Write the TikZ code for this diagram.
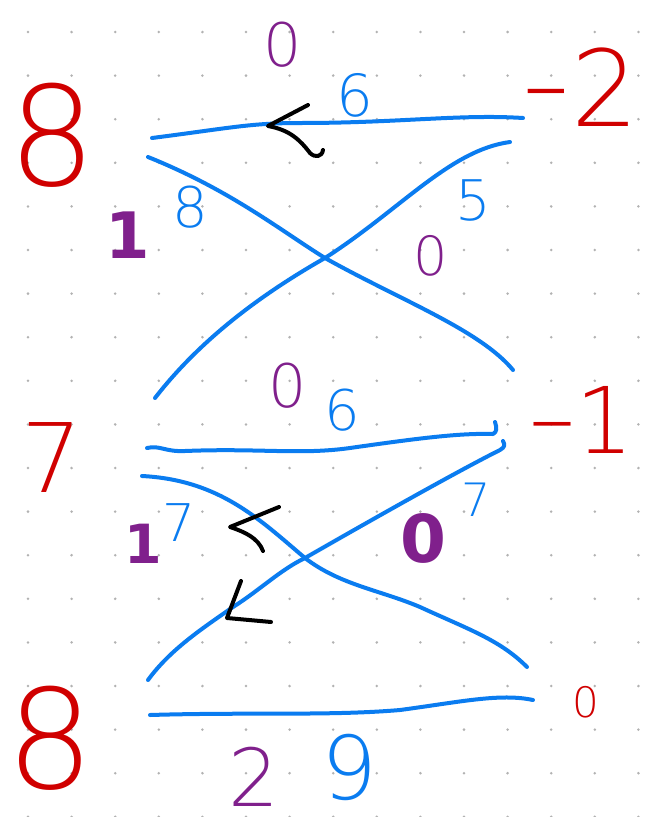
\documentclass[tikz,border=0pt]{standalone}
\usepackage{fontspec}
\setmainfont{DejaVu Sans ExtraLight}[BoldFont=DejaVu Sans Bold]
\usepackage{tikz}
\usetikzlibrary{positioning}

\definecolor{penred}{RGB}{208,0,0}
\definecolor{penblue}{RGB}{10,124,240}
\definecolor{penpurple}{RGB}{128,32,140}

\begin{document}
\begin{tikzpicture}[
  x=1pt, y=-1pt,
  num/.style={inner sep=0pt, font=\fontsize{#1}{#1}\selectfont},
  rednum/.style={num=#1, text=penred},
  bluenum/.style={num=#1, text=penblue},
  purplenum/.style={num=#1, text=penpurple},
  edge/.style={draw=penblue, line width=4pt, line cap=round, line join=round},
  pen/.style={draw=black, line width=4pt, line cap=round, line join=round},
]
\useasboundingbox[fill=white] (0,0) rectangle (645,817);
% dotted paper
\foreach \i in {0,...,14}
  \foreach \j in {0,...,18}
    \fill[black!30] (28+43.6*\i,32+43.6*\j) circle (1.4);

% vertex values
\node[rednum=138] (lt) at (52,135) {8};
\node[rednum=96] (lm) at (52,458) {7};
\node[rednum=138] (lb) at (50,738) {8};
\node[rednum=106] (rt) at (580,87) {\raisebox{6pt}{\scalebox{1.3}[1]{-}}2};
\node[rednum=92] (rm) at (582,420) {\raisebox{4pt}{–}1};
\node[rednum=42] (rb) at (586,702) {0};

% line ends
\coordinate (aL) at (152,138);  \coordinate (aR) at (523,118);
\coordinate (bL) at (148,157);  \coordinate (bR) at (513,370);
\coordinate (cL) at (155,398);  \coordinate (cR) at (510,142);
\coordinate (dL) at (147,448);  \coordinate (dR) at (495,422);
\coordinate (eL) at (142,476);  \coordinate (eR) at (527,667);
\coordinate (fL) at (148,680);  \coordinate (fR) at (503,441);
\coordinate (gL) at (150,715);  \coordinate (gR) at (533,700);

% top block
\draw[edge] (aL) .. controls (230,128) and (250,123) .. (300,123)
  .. controls (400,123) and (460,114) .. (aR);
\draw[edge] (bL) .. controls (230,190) and (280,230) .. (325,258)
  .. controls (400,300) and (480,330) .. (bR);
\draw[edge] (cL) .. controls (200,340) and (260,295) .. (325,258)
  .. controls (400,210) and (450,150) .. (cR);

% middle block
\draw[edge] (dL) .. controls (160,445) and (165,452) .. (185,451)
  .. controls (260,448) and (300,455) .. (350,448)
  .. controls (420,438) and (460,433) .. (493,434)
  .. controls (497,432) and (497,428) .. (dR);
\draw[edge] (eL) .. controls (220,480) and (260,520) .. (305,558)
  .. controls (340,585) and (380,590) .. (420,607)
  .. controls (470,630) and (500,640) .. (eR);
\draw[edge] (fL) .. controls (170,650) and (200,630) .. (233,607)
  .. controls (260,590) and (280,570) .. (305,558)
  .. controls (380,515) and (460,470) .. (500,450)
  .. controls (505,447) and (505,445) .. (fR);

% bottom line
\draw[edge] (gL) .. controls (250,712) and (330,716) .. (400,710)
  .. controls (460,702) and (500,693) .. (gR);

% direction marks
\coordinate (m1) at (268,126);
\draw[pen] (308,105) -- (m1) .. controls (290,130) and (300,140) .. (310,153)
  .. controls (315,158) and (322,157) .. (323,150);
\coordinate (m2) at (230,527);
\draw[pen] (279,507) -- (m2) .. controls (245,532) and (258,538) .. (263,551);
\coordinate (m3) at (227,618);
\draw[pen] (241,581) -- (m3) -- (271,622);

% edge weights
\node[bluenum=58] (w1) at (355,95) {6};
\node[bluenum=56] (w2) at (190,207) {8};
\node[bluenum=56] (w3) at (473,200) {5};
\node[bluenum=56] (w4) at (342,410) {6};
\node[bluenum=52] (w5) at (179,523) {7};
\node[bluenum=46] (w6) at (476,500) {7};
\node[bluenum=88] (w7) at (349,767) {9};

% purple marks
\node[purplenum=60] (p1) at (283,45) {0};
\node[purplenum=64, font=\fontsize{64}{64}\selectfont\bfseries] (p2) at (128,235) {1};
\node[purplenum=54] (p3) at (431,256) {0};
\node[purplenum=60] (p4) at (288,386) {0};
\node[purplenum=66, font=\fontsize{66}{66}\selectfont\bfseries] (p5) at (423,538) {0};
\node[purplenum=54, font=\fontsize{54}{54}\selectfont\bfseries] (p6) at (143,544) {1};
\node[purplenum=80] (p7) at (254,777) {2};
\end{tikzpicture}
\end{document}
